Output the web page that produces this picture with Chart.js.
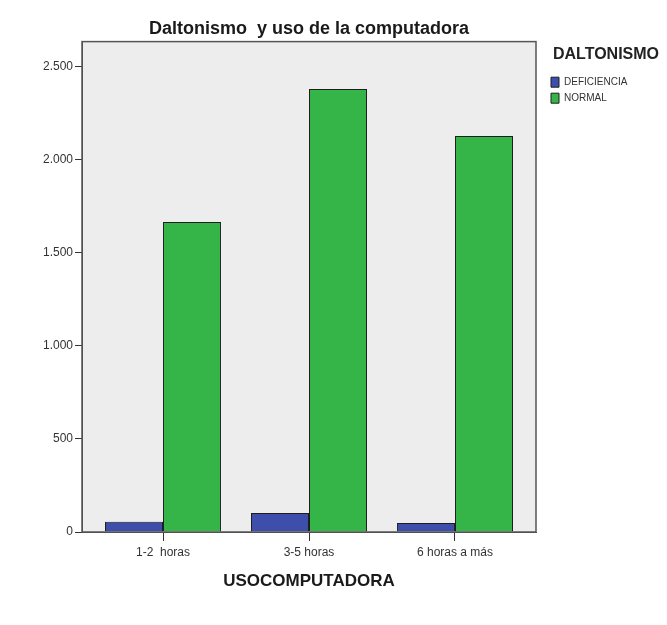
<!DOCTYPE html>
<html>
<head>
<meta charset="utf-8">
<script src="https://cdn.jsdelivr.net/npm/chart.js@4/dist/chart.umd.min.js"></script>
<style>
  body { margin: 0; background: #fff; }
  #wrap { width: 667px; height: 625px; }
</style>
</head>
<body>
<div id="wrap"><canvas id="chart" width="667" height="625"></canvas></div>
<script>
  // --- data ---
  const categories = ["1-2  horas", "3-5 horas", "6 horas a más"];
  const deficiencia = [55, 102, 48];
  const normal = [1665, 2380, 2127];
  const yTicks = [0, 500, 1000, 1500, 2000, 2500];

  const FONT = "'Liberation Sans', Arial, sans-serif";

  function fmt(v) {
    // 2500 -> "2.500"
    return String(v).replace(/\B(?=(\d{3})+(?!\d))/g, ".");
  }

  function toPoints(values) {
    return values.map((v, i) => ({ x: i, y: v }));
  }

  // grey plot background + dark frame like the SPSS output
  const plotFrame = {
    id: "plotFrame",
    beforeLayout(chart) {
      // legend box is wider than its items so the title fits
      const lg = chart.legend;
      if (lg && !lg._wide) {
        const fit = lg.fit;
        lg.fit = function () { fit.call(this); this.width = 122; };
        lg._wide = true;
      }
    },
    beforeDraw(chart) {
      const a = chart.chartArea;
      const ctx = chart.ctx;
      ctx.save();
      ctx.fillStyle = "#ededed";
      ctx.fillRect(a.left, a.top, a.right - a.left, a.bottom - a.top);
      ctx.restore();
    },
    afterDraw(chart) {
      const a = chart.chartArea;
      const ctx = chart.ctx;
      ctx.save();
      ctx.strokeStyle = "#555";
      ctx.lineWidth = 1.5;
      ctx.strokeRect(a.left, a.top, a.right - a.left, a.bottom - a.top);
      ctx.restore();
    }
  };

  new Chart(document.getElementById("chart"), {
    type: "bar",
    data: {
      datasets: [
        {
          label: "DEFICIENCIA",
          data: toPoints(deficiencia),
          backgroundColor: "#3d4fab",
          borderColor: "#1e1e1e",
          borderWidth: 1
        },
        {
          label: "NORMAL",
          data: toPoints(normal),
          backgroundColor: "#35b547",
          borderColor: "#1e1e1e",
          borderWidth: 1
        }
      ]
    },
    options: {
      responsive: false,
      animation: false,
      layout: { padding: { left: 0, right: 0, top: 0, bottom: 33 } },
      datasets: {
        bar: { categoryPercentage: 0.795, barPercentage: 1 }
      },
      plugins: {
        tooltip: { enabled: false },
        title: {
          display: true,
          fullSize: false,
          text: "Daltonismo  y uso de la computadora",
          color: "#1a1a1a",
          font: { family: FONT, size: 18, weight: "bold" },
          padding: { top: 18, bottom: 2 }
        },
        legend: {
          position: "right",
          align: "start",
          title: {
            display: true,
            text: "DALTONISMO",
            position: "center",
            color: "#222",
            font: { family: FONT, size: 16, weight: "bold" },
            padding: { top: 47, bottom: 5 }
          },
          labels: {
            boxWidth: 8,
            boxHeight: 10,
            padding: 6,
            color: "#333",
            font: { family: FONT, size: 10 }
          }
        }
      },
      scales: {
        x: {
          type: "linear",
          offset: false,
          min: -0.555,
          max: 2.555,
          afterBuildTicks: (s) => { s.ticks = categories.map((c, i) => ({ value: i })); },
          afterFit: (s) => { s.height = 60; },
          grid: { offset: false, drawOnChartArea: false, tickLength: 9, color: "#333" },
          border: { color: "#444", width: 1 },
          ticks: {
            padding: 4,
            color: "#333",
            font: { family: FONT, size: 12 },
            callback: (v) => categories[v]
          },
          title: {
            display: true,
            text: "USOCOMPUTADORA",
            color: "#1a1a1a",
            font: { family: FONT, size: 17, weight: "bold" },
            padding: 0
          }
        },
        y: {
          min: 0,
          max: 2634,
          afterBuildTicks: (s) => { s.ticks = yTicks.map((v) => ({ value: v })); },
          afterFit: (s) => { s.width = 82; },
          grid: { drawOnChartArea: false, tickLength: 7, color: "#333" },
          border: { color: "#444", width: 1 },
          ticks: {
            padding: 2,
            color: "#333",
            font: { family: FONT, size: 12 },
            callback: (v) => fmt(v)
          }
        },
        spacer: {
          axis: "y",
          position: "right",
          afterFit: (s) => { s.width = 9; },
          grid: { display: false },
          border: { display: false },
          ticks: { display: false }
        }
      }
    },
    plugins: [plotFrame]
  });
</script>
</body>
</html>
